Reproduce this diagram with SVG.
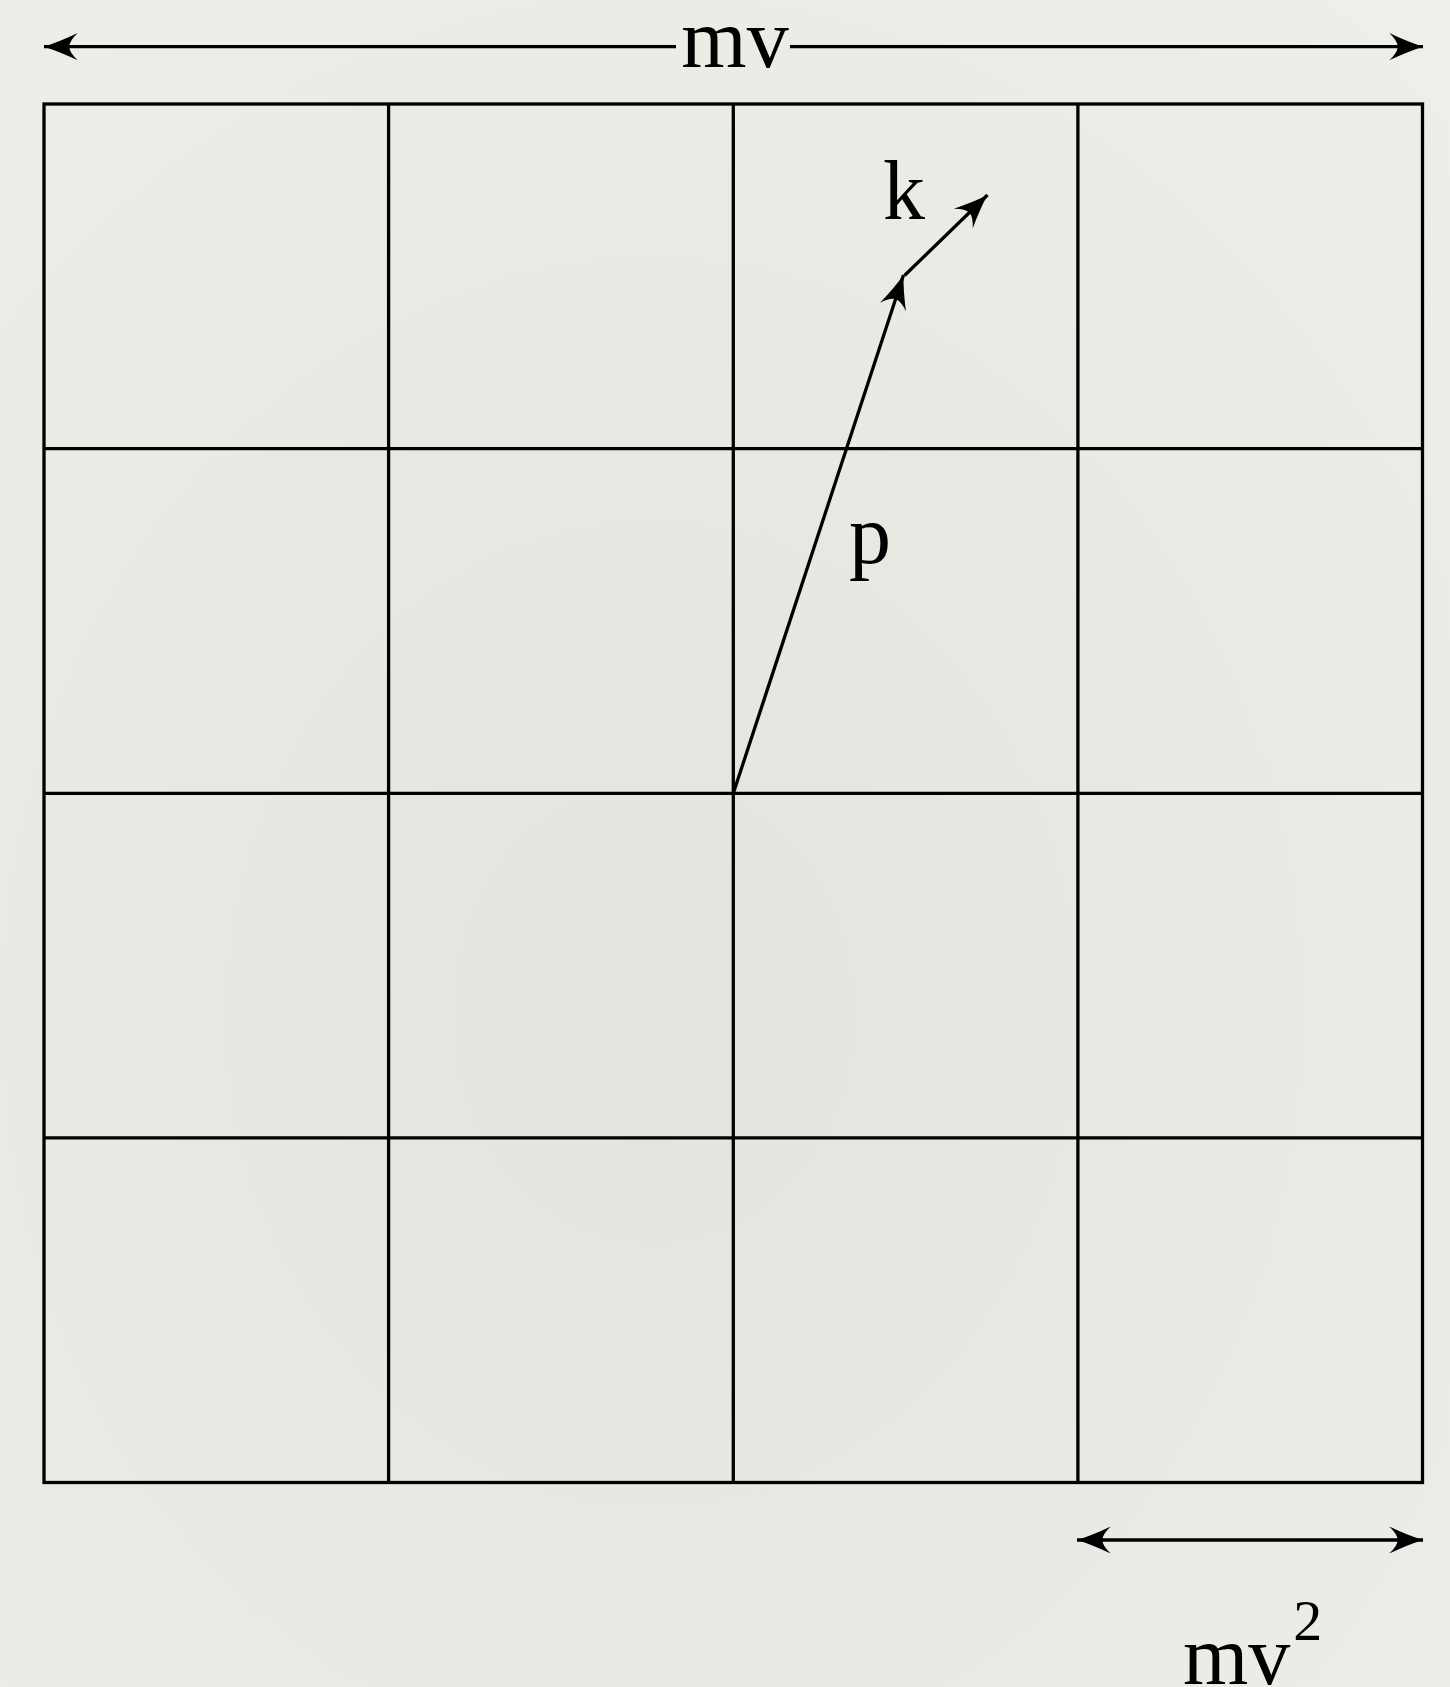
<svg xmlns="http://www.w3.org/2000/svg" width="1450" height="1687" viewBox="0 0 1450 1687">
<defs>
<radialGradient id="bg" cx="0.45" cy="0.6" r="0.8">
<stop offset="0" stop-color="#e5e3de"/>
<stop offset="1" stop-color="#f0eee9"/>
</radialGradient>
<marker id="ah" markerUnits="userSpaceOnUse" markerWidth="40" markerHeight="30" viewBox="-37 -16 39 32" refX="0" refY="0" orient="auto-start-reverse" overflow="visible">
<path d="M0,0 Q-16,-5 -36,-14.5 Q-27,-6 -27,0 Q-27,6 -36,14.5 Q-16,5 0,0 Z" fill="#000"/>
</marker>
<style>
.ln{stroke:#000;stroke-width:3.3;fill:none}
.ar{stroke:#000;stroke-width:3.3;fill:none;stroke-linecap:butt}
.t{font-family:"Liberation Serif","Times New Roman",serif;fill:#000}
</style>
</defs>
<rect width="1450" height="1687" fill="url(#bg)"/>
<g id="grid">
<rect class="ln" x="44" y="104" width="1378.5" height="1378.5"/>
<line class="ln" x1="388.6" y1="104" x2="388.6" y2="1482.5"/>
<line class="ln" x1="733.3" y1="104" x2="733.3" y2="1482.5"/>
<line class="ln" x1="1077.9" y1="104" x2="1077.9" y2="1482.5"/>
<line class="ln" x1="44" y1="448.6" x2="1422.5" y2="448.6"/>
<line class="ln" x1="44" y1="793.3" x2="1422.5" y2="793.3"/>
<line class="ln" x1="44" y1="1137.9" x2="1422.5" y2="1137.9"/>
</g>
<g id="connectors">
<line class="ar" x1="676" y1="46.7" x2="44" y2="46.7" marker-end="url(#ah)"/>
<line class="ar" x1="790" y1="46.7" x2="1423" y2="46.7" marker-end="url(#ah)"/>
<line class="ar" x1="733.3" y1="793.3" x2="903.5" y2="275" marker-end="url(#ah)"/>
<line class="ar" x1="904.5" y1="275.5" x2="987.5" y2="195" marker-end="url(#ah)"/>
<line class="ar" x1="1077" y1="1540" x2="1423" y2="1540" marker-start="url(#ah)" marker-end="url(#ah)"/>
</g>
<g id="labels">
<text class="t" x="735" y="67" font-size="84" text-anchor="middle">mv</text>
<text class="t" x="883" y="219" font-size="84">k</text>
<text class="t" x="849" y="563" font-size="84">p</text>
<text class="t" x="1183" y="1684" font-size="84">mv<tspan font-size="58" dx="3" dy="-44">2</tspan></text>
</g>
</svg>
